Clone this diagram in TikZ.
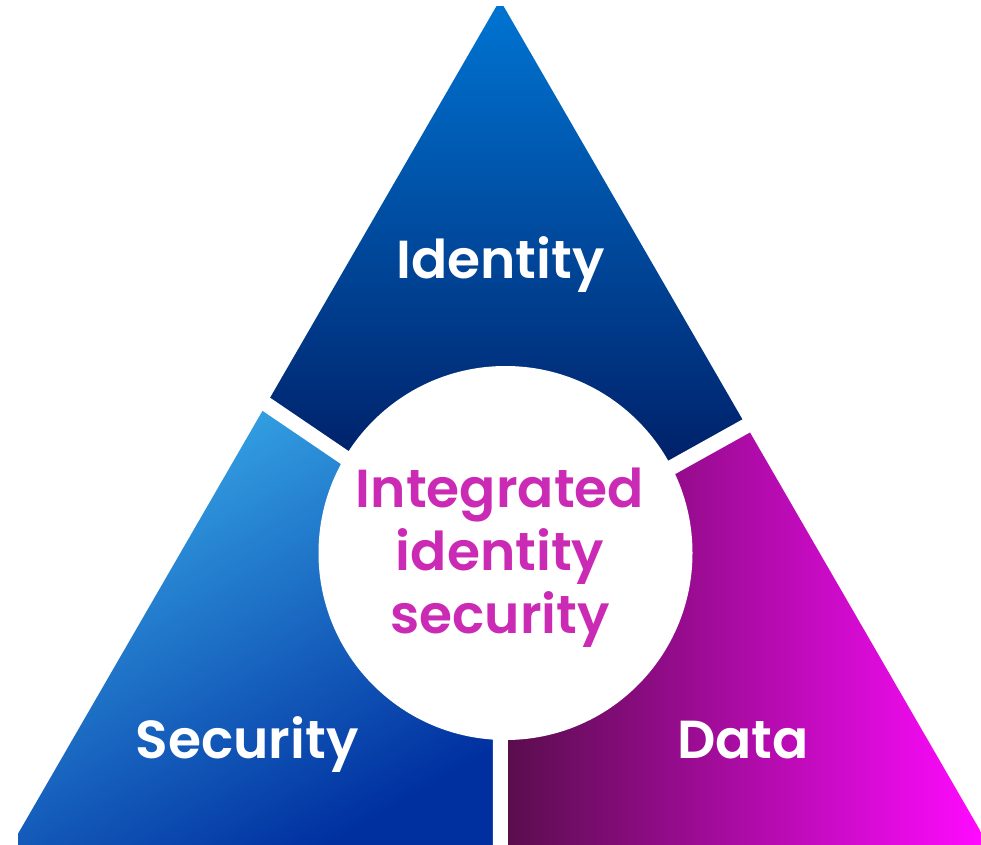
\documentclass[tikz,border=0pt]{standalone}
\usepackage{fontspec}
\newfontfamily\labelfont{Poppins SemiBold}
\usetikzlibrary{calc}
\definecolor{idtop}{HTML}{0074D2}
\definecolor{idmid}{HTML}{0337A2}
\definecolor{idbot}{HTML}{00216A}
\definecolor{seclight}{HTML}{38AAE8}
\definecolor{secmid}{HTML}{0066C8}
\definecolor{secdark}{HTML}{0030A0}
\definecolor{datal}{HTML}{5A0D4D}
\definecolor{datam}{HTML}{951C82}
\definecolor{datar}{HTML}{FF0AFF}
\definecolor{coretext}{HTML}{CA2AB4}
\begin{document}
\begin{tikzpicture}[x=1pt,y=-1pt,
  pillar/.style={text=white, font=\labelfont\fontsize{53.5}{63}\selectfont, anchor=base, inner sep=0pt},
  core/.style={text=coretext, font=\labelfont\fontsize{53.5}{63}\selectfont, align=center, anchor=base, inner sep=0pt},
  gap/.style={white, line width=15pt}]
\useasboundingbox (0,0) rectangle (981,844);
% triangle corners, centre of the three gaps, gap ends on the edges, core circle
\coordinate (apex) at (500,0);
\coordinate (bl) at (11.5,845);
\coordinate (br) at (988.5,845);
\coordinate (g) at (500,563);
\coordinate (gl) at (266,404);
\coordinate (gr) at (746,426);
\coordinate (gb) at (500.5,844);
\coordinate (c) at (505.5,553);
\begin{scope}
  \clip[rounded corners=7pt] (apex) -- (bl) -- (br) -- cycle;
  % Identity sector
  \begin{scope}
    \clip (g) -- ($(g)!2.5!(gl)$) -- (-100,-100) -- (1100,-100) -- ($(g)!2.5!(gr)$) -- cycle;
    \shade[top color=idtop, middle color=idmid, bottom color=idbot] (0,6) rectangle (981,460);
  \end{scope}
  % Security sector
  \begin{scope}
    \clip (g) -- ($(g)!2.5!(gl)$) -- (-100,1000) -- (500,1000) -- cycle;
    \shade[top color=seclight, middle color=secmid, bottom color=secdark, shading angle=30] (18,400) rectangle (500,844);
  \end{scope}
  % Data sector
  \begin{scope}
    \clip (g) -- (500,1000) -- (1100,1000) -- ($(g)!2.5!(gr)$) -- cycle;
    \shade[left color=datal, middle color=datam, right color=datar] (508,420) rectangle (981,844);
  \end{scope}
\end{scope}
% white separations and the core disc
\draw[gap] (g) -- ($(g)!1.4!(gl)$);
\draw[gap] (g) -- ($(g)!1.4!(gr)$);
\draw[gap] (g) -- ($(gb)+(0,20)$);
\fill[white] (c) circle (187pt);
% labels
\node[pillar] (identity) at (500.5,278) {Identity};
\node[pillar] (security) at (247,758) {Security};
\node[pillar] (data) at (743,758) {Data};
\node[core] (core) at (500,633) {Integrated\\identity\\security};
\end{tikzpicture}
\end{document}
